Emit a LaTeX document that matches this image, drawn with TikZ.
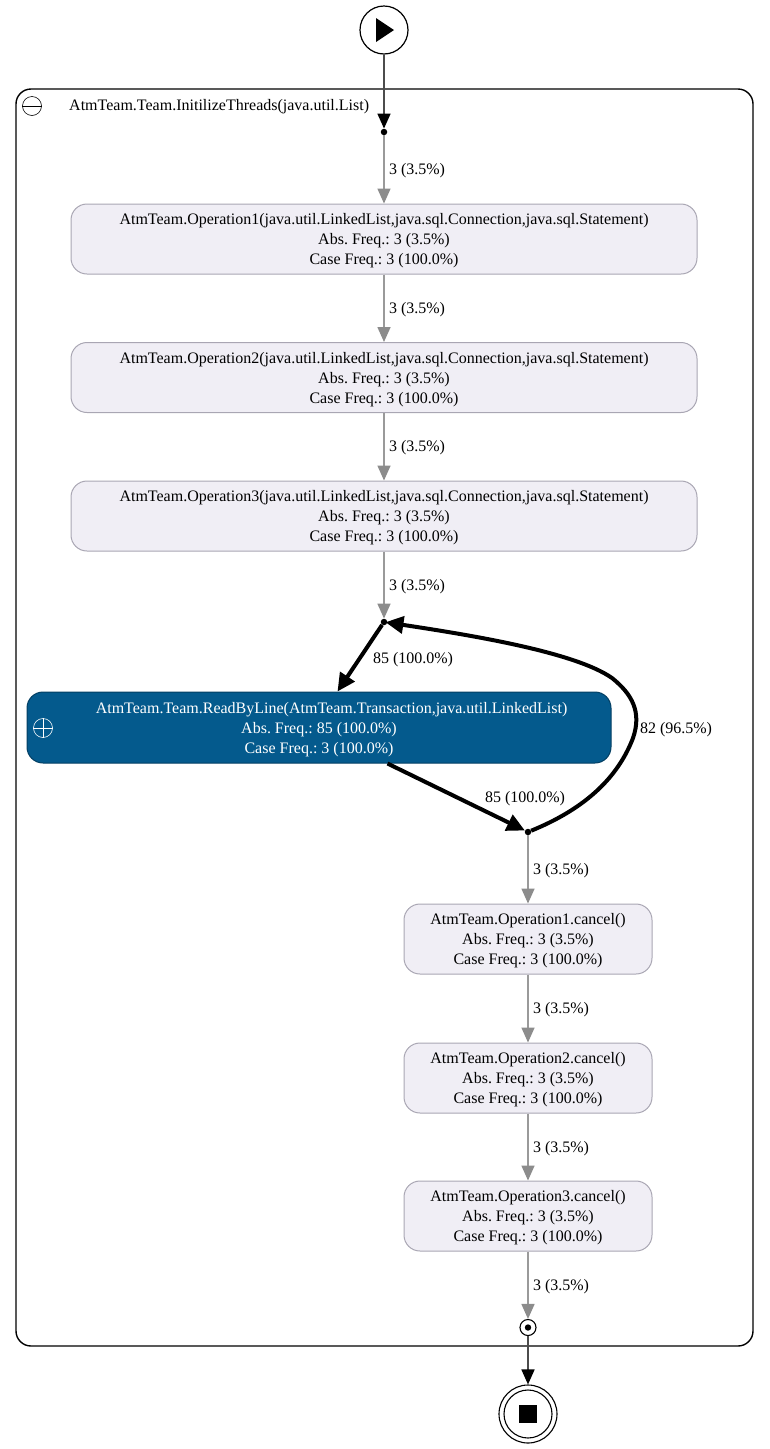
\documentclass[tikz,border=0pt]{standalone}
\usepackage{fontspec}
\setmainfont{Liberation Serif}
\usetikzlibrary{arrows.meta,calc}
\frenchspacing
\definecolor{boxfill}{HTML}{F0EEF5}
\definecolor{boxline}{HTML}{A9A6B3}
\definecolor{bluefill}{HTML}{045A8D}
\definecolor{edgegray}{HTML}{8C8C8C}
\definecolor{edgeline}{HTML}{9A9A9A}
\newcommand{\tstr}{\rule{0pt}{15pt}}
\tikzset{
  lab/.style={font=\fontsize{16}{20}\selectfont,inner sep=0pt,anchor=center},
  act/.style={draw=boxline,line width=1pt,fill=boxfill,rounded corners=16pt,minimum height=70pt,align=center,inner sep=0pt,font=\fontsize{16}{20}\selectfont},
  bigact/.style={act,minimum width=626pt},
  smallact/.style={act,minimum width=248pt},
  dotn/.style={circle,fill=black,inner sep=0pt,minimum size=6.5pt},
  thin edge/.style={draw=edgeline,line width=1.6pt,-{Triangle[length=15pt,width=13pt,color=edgegray,fill=edgegray]}},
  mid edge/.style={draw=black!70,line width=1.7pt,-{Triangle[length=15pt,width=13pt,color=black,fill=black]}},
  thick edge/.style={draw=black,line width=4pt,-{Triangle[length=18pt,width=17pt,fill=black]}},
}
\begin{document}
\begin{tikzpicture}[x=1pt,y=-1pt]
\useasboundingbox (0,0) rectangle (769,1449);
\draw[line width=1.4pt,rounded corners=15pt] (16,89) rectangle (753,1346);
\node[circle,draw,line width=0.6pt,minimum size=19pt,inner sep=0pt] (coll) at (32,106) {};
\draw[line width=0.6pt] (coll.west) -- (coll.east);
\node[lab,anchor=west] (title) at (69,106.5) {AtmTeam.Team.InitilizeThreads(java.util.List)};

\node[circle,draw,fill=white,line width=1.2pt,minimum size=48pt,inner sep=0pt] (start) at (384,30) {};
\fill (376,18) -- (394,30) -- (376,42) -- cycle;
\node[dotn] (d1) at (384,132) {};

\node[bigact] (a1) at (384,239) {\tstr AtmTeam.Operation1(java.util.LinkedList,java.sql.Connection,java.sql.Statement)\\Abs. Freq.: 3 (3.5\%)\\Case Freq.: 3 (100.0\%)};
\node[bigact] (a2) at (384,377.5) {\tstr AtmTeam.Operation2(java.util.LinkedList,java.sql.Connection,java.sql.Statement)\\Abs. Freq.: 3 (3.5\%)\\Case Freq.: 3 (100.0\%)};
\node[bigact] (a3) at (384,516) {\tstr AtmTeam.Operation3(java.util.LinkedList,java.sql.Connection,java.sql.Statement)\\Abs. Freq.: 3 (3.5\%)\\Case Freq.: 3 (100.0\%)};
\node[dotn] (d2) at (384,622) {};
\node[act,draw=bluefill!70!black,fill=bluefill,text=white,minimum width=584pt,minimum height=71pt] (rb) at (319,727.5) {\hspace*{25pt}\tstr AtmTeam.Team.ReadByLine(AtmTeam.Transaction,java.util.LinkedList)\\Abs. Freq.: 85 (100.0\%)\\Case Freq.: 3 (100.0\%)};
\node[circle,draw=white,line width=0.6pt,minimum size=19pt,inner sep=0pt] (exp) at (43,728) {};
\draw[white,line width=0.6pt] (exp.west) -- (exp.east) (exp.north) -- (exp.south);
\node[dotn] (d3) at (528,832) {};
\node[smallact] (c1) at (528,939) {\tstr AtmTeam.Operation1.cancel()\\Abs. Freq.: 3 (3.5\%)\\Case Freq.: 3 (100.0\%)};
\node[smallact] (c2) at (528,1078) {\tstr AtmTeam.Operation2.cancel()\\Abs. Freq.: 3 (3.5\%)\\Case Freq.: 3 (100.0\%)};
\node[smallact] (c3) at (528,1216) {\tstr AtmTeam.Operation3.cancel()\\Abs. Freq.: 3 (3.5\%)\\Case Freq.: 3 (100.0\%)};
\node[circle,draw,fill=white,line width=1.1pt,minimum size=16pt,inner sep=0pt] (e1) at (528,1327.5) {};
\fill (e1) circle (3.2pt);
\node[circle,draw,fill=white,line width=1.1pt,minimum size=58pt,inner sep=0pt] (e2) at (528,1414) {};
\node[circle,draw,line width=1.1pt,minimum size=48pt,inner sep=0pt] (e2i) at (528,1414) {};
\fill (519,1405) rectangle (537,1423);

\draw[mid edge] (start) -- (d1);
\draw[thin edge] (d1) -- (a1);
\draw[thin edge] (a1) -- (a2);
\draw[thin edge] (a2) -- (a3);
\draw[thin edge] (a3) -- (d2);
\draw[thick edge] (d2) -- ($(rb.north west)+(311,0)$);
\draw[thick edge] ($(rb.south west)+(361,0)$) -- (d3);
\draw[thick edge,shorten >=-2pt] (d3) .. controls (582,810) and (617,780) .. (633,738)
  .. controls (642,712) and (632,694) .. (612,678)
  .. controls (575,652) and (470,635) .. (d2);
\draw[thin edge] (d3) -- (c1);
\draw[thin edge] (c1) -- (c2);
\draw[thin edge] (c2) -- (c3);
\draw[thin edge] (c3) -- (e1);
\draw[mid edge] (e1) -- (e2);

\node[lab] (l1) at (417,171) {3 (3.5\%)};
\node[lab] (l2) at (417,309.5) {3 (3.5\%)};
\node[lab] (l3) at (417,448) {3 (3.5\%)};
\node[lab] (l4) at (417,587) {3 (3.5\%)};
\node[lab] (l5) at (413,660) {85 (100.0\%)};
\node[lab] (l6) at (525,798.5) {85 (100.0\%)};
\node[lab] (l7) at (676,729.5) {82 (96.5\%)};
\node[lab] (l8) at (561,871) {3 (3.5\%)};
\node[lab] (l9) at (561,1010) {3 (3.5\%)};
\node[lab] (l10) at (561,1148.5) {3 (3.5\%)};
\node[lab] (l11) at (561,1287) {3 (3.5\%)};
\end{tikzpicture}
\end{document}
